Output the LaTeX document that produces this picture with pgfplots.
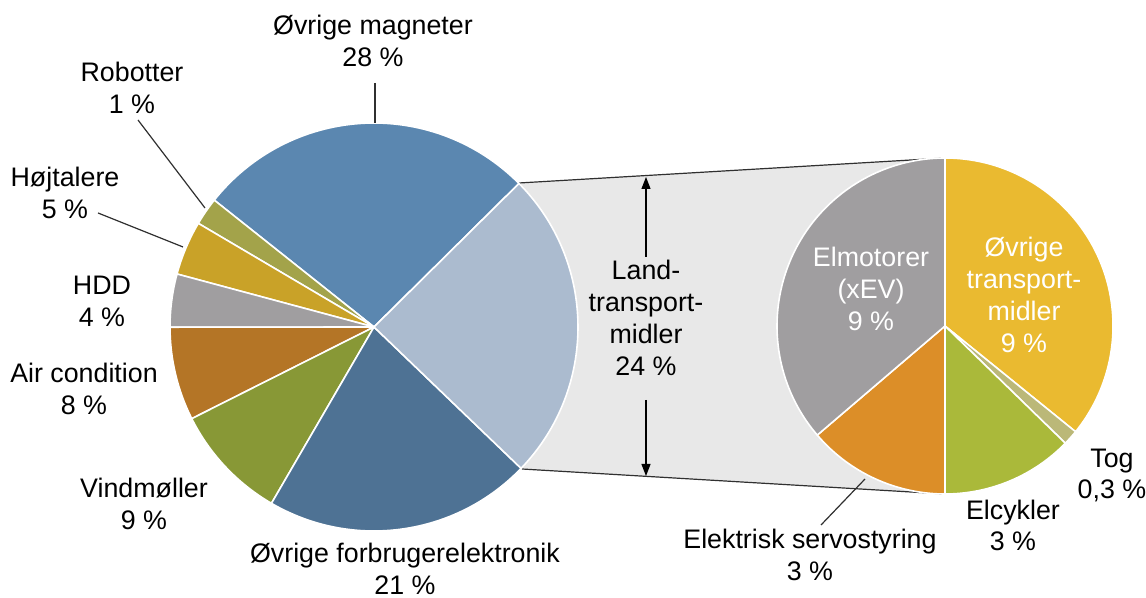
\documentclass[border=0pt]{standalone}
\usepackage{fontspec}
\setmainfont{Liberation Sans}
\usepackage{pgfplots}
\pgfplotsset{compat=1.18}
\usetikzlibrary{arrows.meta}

\definecolor{cMag}{HTML}{5B87B0}
\definecolor{cLand}{HTML}{ABBBCF}
\definecolor{cForb}{HTML}{4E7294}
\definecolor{cVind}{HTML}{889836}
\definecolor{cAir}{HTML}{B47526}
\definecolor{cHDD}{HTML}{A09EA0}
\definecolor{cHoj}{HTML}{C9A228}
\definecolor{cRob}{HTML}{A3A34A}
\definecolor{cElm}{HTML}{A09EA0}
\definecolor{cOvr}{HTML}{EABA30}
\definecolor{cTog}{HTML}{BBB878}
\definecolor{cCyk}{HTML}{AAB93A}
\definecolor{cSrv}{HTML}{DC8E28}
\definecolor{cGap}{HTML}{E8E8E8}
\definecolor{cLine}{HTML}{303030}

\newcommand\lbl{\fontsize{13.4}{16}\selectfont}
% multi-line label: [colour] x, first baseline y (pixels, y down), {line,line,...}
\newcommand\mlab[4][black]{%
  \foreach \t [count=\i from 0] in {#4}{%
    \node[anchor=base, inner sep=0pt, text=#1, font=\lbl] at (axis cs:#2,{#3+32*\i}) {\t};}}

\begin{document}
\begin{tikzpicture}
\begin{axis}[
    width=573pt, height=299pt, scale only axis,
    xmin=0, xmax=1146, ymin=0, ymax=598,
    y dir=reverse,
    hide axis,
  ]
  \coordinate (bl) at (axis cs:0,598);
  \coordinate (tr) at (axis cs:1146,0);
  \pgfplotsextra{
    % band between the two pies
    \fill[cGap] (axis cs:519,183) -- (axis cs:945,158) -- (axis cs:945,494) -- (axis cs:522,469) -- cycle;
    \draw[cLine, line width=0.6pt] (axis cs:519,183) -- (axis cs:945,158);
    \draw[cLine, line width=0.6pt] (axis cs:522,469) -- (axis cs:945,494);

    % main pie, shares in percent, counter-clockwise
    \def\ang{44.7}
    \foreach \v/\c in {26.9/cMag, 2.2/cRob, 4.3/cHoj, 4.2/cHDD, 7.4/cAir, 9.2/cVind, 21.2/cForb, 24.6/cLand}{
      \pgfmathsetmacro\nxt{\ang+3.6*\v}
      \filldraw[fill=\c, draw=white, line width=0.8pt, line join=round]
        (axis cs:374,327) -- ++(\ang:102pt) arc[start angle=\ang, end angle=\nxt, radius=102pt] -- cycle;
      \xdef\ang{\nxt}
    }

    % land transport split (of 24 %), clockwise from top
    \def\ang{90}
    \foreach \v/\c in {8.6/cOvr, 0.35/cTog, 3.05/cCyk, 3.3/cSrv, 8.7/cElm}{
      \pgfmathsetmacro\nxt{\ang-15*\v}
      \filldraw[fill=\c, draw=white, line width=0.8pt, line join=round]
        (axis cs:945,326) -- ++(\ang:84pt) arc[start angle=\ang, end angle=\nxt, radius=84pt] -- cycle;
      \xdef\ang{\nxt}
    }

    % leader lines
    \draw[cLine, line width=0.6pt] (axis cs:375,83) -- (axis cs:375,123);
    \draw[cLine, line width=0.6pt] (axis cs:138,120) -- (axis cs:205,208);
    \draw[cLine, line width=0.6pt] (axis cs:98,213) -- (axis cs:183,247);
    \draw[cLine, line width=0.6pt] (axis cs:821,525) -- (axis cs:865,479);

    % arrows
    \draw[black, line width=0.6pt, -{Triangle[length=6pt, width=4.5pt]}] (axis cs:646,257) -- (axis cs:646,177);
    \draw[black, line width=0.6pt, -{Triangle[length=6pt, width=4.5pt]}] (axis cs:646,400) -- (axis cs:646,476);

    % labels
    \mlab{373}{35}{Øvrige magneter, 28 \%}
    \mlab{132}{82}{Robotter, 1 \%}
    \mlab{65}{187}{Højtalere, 5 \%}
    \mlab{102}{295}{HDD, 4 \%}
    \mlab{84}{383}{Air condition, 8 \%}
    \mlab{144}{498}{Vindmøller, 9 \%}
    \mlab{405}{562}{Øvrige forbrugerelektronik, 21 \%}
    \mlab{646}{280}{Land-, transport-, midler, 24 \%}
    \mlab[white]{871}{267}{Elmotorer, (xEV), 9 \%}
    \mlab[white]{1024}{257}{Øvrige, transport-, midler, 9 \%}
    \mlab{1112}{467}{Tog, {0,3 \%}}
    \mlab{1013}{519}{Elcykler, 3 \%}
    \mlab{810}{548}{Elektrisk servostyring, 3 \%}
  }
\end{axis}
\pgfresetboundingbox
\useasboundingbox (bl) rectangle (tr);
\end{tikzpicture}
\end{document}
